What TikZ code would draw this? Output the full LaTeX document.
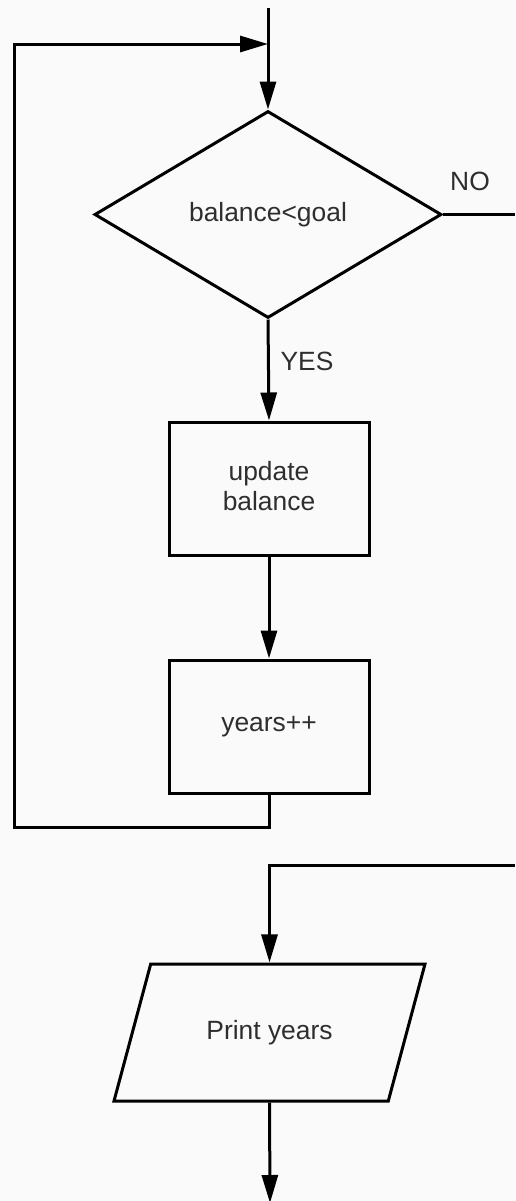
\documentclass[tikz,border=0pt]{standalone}
\usepackage{fontspec}
\setmainfont{Liberation Sans}
\usetikzlibrary{shapes.geometric,arrows.meta}
\begin{document}
\begin{tikzpicture}[x=0.5pt,y=-0.5pt,
  line width=1.5pt,
  >={Triangle[length=14pt,width=8pt]},
  font=\fontsize{13.2}{15}\selectfont,
  every node/.style={text=black!82},
  dia/.style={draw=black, diamond, minimum width=173.5pt, minimum height=103.5pt, inner sep=0pt},
  procbox/.style={draw=black, rectangle, minimum width=100pt, minimum height=66.5pt, inner sep=0pt, align=center},
  iobox/.style={draw=black, trapezium, trapezium left angle=75, trapezium right angle=105,
     trapezium stretches body=true, text height=9.5pt, text depth=2.8pt,
     inner xsep=0pt, inner ysep=28.1pt, minimum width=155.5pt},
  lbl/.style={inner sep=0pt}
]
\fill[black!2] (0,0) rectangle (515,1201);
\useasboundingbox (0,0) rectangle (515,1201);

% nodes
\node[dia] (dec) at (268,214.5) {balance<goal};
\node[procbox] (upd) at (269,488.5) {\raisebox{2.5pt}{\shortstack{update\\balance}}};
\node[procbox] (yrs) at (269,726.5) {years++};
\node[iobox] (prt) at (269.5,1032.5) {Print years};
\node[lbl] (no) at (470,181) {NO};
\node[lbl] (yes) at (307,361) {YES};

% coordinates
\coordinate (top) at (268,8);
\coordinate (join) at (268,44);
\coordinate (noend) at (515,214.5);
\coordinate (c1) at (14,827);
\coordinate (rin) at (515,865);
\coordinate (out) at (270,1203);

% connectors
\draw (top) -- (join);
\draw[->] (join) -- (dec.north);
\draw (dec.east) -- (noend);
\draw[->] (dec.south) -- (upd.north);
\draw[->] (upd.south) -- (yrs.north);
\draw[->] (yrs.south) |- (c1) |- (join);
\draw[->] (rin) -| (prt.north);
\draw[->] (prt.south) -- (out);
\end{tikzpicture}
\end{document}
